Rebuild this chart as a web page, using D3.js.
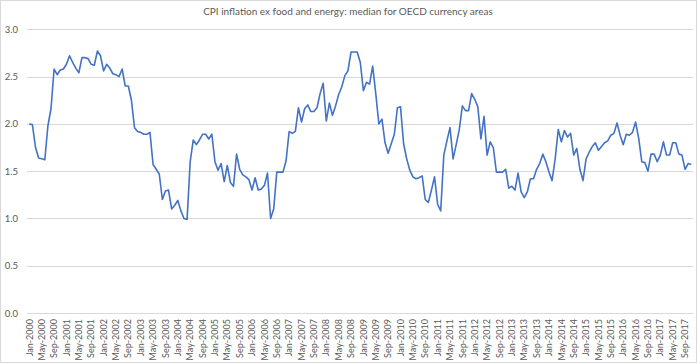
<!DOCTYPE html>
<html>
<head>
<meta charset="utf-8">
<script src="https://cdn.jsdelivr.net/npm/d3@7"></script>
<style>
  body { margin: 0; background: #fff; }
  svg { display: block; font-family: Lato, "Open Sans", sans-serif; }
</style>
</head>
<body>
<div id="chart"></div>
<script>
const width = 700;
const height = 364;

const title = "CPI inflation ex food and energy: median for OECD currency areas";

// monthly categories, Jan 2000 .. Nov 2017
const parseMonth = d3.timeParse("%Y-%m");
const fmtMonth = d3.timeFormat("%b-%Y");
const months = d3.timeMonth.range(parseMonth("2000-01"), parseMonth("2017-12")).map(fmtMonth);

// median core CPI inflation, %
const values = [
  2.00, 1.99, 1.75, 1.64, 1.63, 1.62, 1.98, 2.16, 2.58, 2.52,
  2.57, 2.58, 2.63, 2.72, 2.65, 2.59, 2.54, 2.70, 2.70, 2.69,
  2.63, 2.62, 2.77, 2.72, 2.56, 2.63, 2.59, 2.53, 2.52, 2.50,
  2.58, 2.40, 2.40, 2.25, 1.96, 1.92, 1.91, 1.89, 1.89, 1.91,
  1.57, 1.52, 1.47,
  1.20, 1.29, 1.30, 1.10, 1.14, 1.19, 1.08, 1.00, 0.99, 1.60,
  1.83, 1.78, 1.83, 1.89, 1.89, 1.84, 1.89, 1.60, 1.51, 1.58,
  1.39, 1.56, 1.38, 1.34, 1.68, 1.52, 1.46, 1.44, 1.41, 1.30,
  1.43, 1.30, 1.31, 1.35, 1.48, 1.00, 1.10, 1.49, 1.49, 1.49,
  1.61, 1.92, 1.90,
  1.92, 2.17, 2.02, 2.16, 2.20, 2.13, 2.13, 2.17, 2.32, 2.43,
  2.03, 2.22, 2.09, 2.19, 2.31, 2.39, 2.51, 2.56, 2.76, 2.76,
  2.76, 2.65, 2.35, 2.44, 2.42, 2.61, 2.32, 2.00, 2.05, 1.80,
  1.69, 1.79, 1.89, 2.17, 2.18, 1.79, 1.63, 1.51, 1.44, 1.42,
  1.43, 1.45, 1.20, 1.17,
  1.30, 1.44, 1.15, 1.08, 1.67, 1.82, 1.96, 1.63, 1.78, 1.94,
  2.19, 2.14, 2.14, 2.32, 2.26, 2.18, 1.84, 2.08, 1.67, 1.81,
  1.75, 1.49, 1.49, 1.49, 1.52, 1.32, 1.34, 1.30, 1.48, 1.28,
  1.22, 1.28, 1.42, 1.42, 1.52, 1.58, 1.68, 1.60, 1.49, 1.40,
  1.63, 1.94, 1.81, 1.93,
  1.86, 1.90, 1.67, 1.74, 1.52, 1.40, 1.63, 1.70, 1.76, 1.80,
  1.72, 1.76, 1.80, 1.82, 1.88, 1.90, 2.01, 1.88, 1.78, 1.89,
  1.88, 1.91, 2.02, 1.85, 1.60, 1.59, 1.50, 1.68, 1.68, 1.60,
  1.67, 1.81, 1.67, 1.67, 1.80, 1.80, 1.68, 1.67, 1.52, 1.58,
  1.57
];

const yTicks = [0, 0.5, 1, 1.5, 2, 2.5, 3];
const xTickLabels = months.filter((m, i) => i % 4 === 0);

const data = months.map((m, i) => ({ month: m, value: values[i] }));

const svg = d3.select("#chart")
  .append("svg")
  .attr("width", width)
  .attr("height", height);

// chart area border
svg.append("rect")
  .attr("x", 0.5)
  .attr("y", 0.5)
  .attr("width", 696)
  .attr("height", 362)
  .attr("fill", "none")
  .attr("stroke", "#d9d9d9");

// scales
const xScale = d3.scaleBand()
  .domain(months)
  .range([27.8, 692.8]);

const yScale = d3.scaleLinear()
  .domain([0, 3])
  .range([313, 29.3]);

const xMid = d => xScale(d) + xScale.bandwidth() / 2;

// gridlines
svg.append("g")
  .selectAll("line")
  .data(yTicks)
  .join("line")
  .attr("x1", 27)
  .attr("x2", 693)
  .attr("y1", d => Math.round(yScale(d)) + 0.5)
  .attr("y2", d => Math.round(yScale(d)) + 0.5)
  .attr("stroke", "#d9d9d9")
  .attr("stroke-width", 1);

// y axis labels
const yAxis = svg.append("g")
  .attr("transform", "translate(18, 0)")
  .call(d3.axisLeft(yScale).tickValues(yTicks).tickFormat(d3.format(".1f")).tickSize(0).tickPadding(0));
yAxis.select(".domain").remove();
yAxis.selectAll("text")
  .attr("fill", "#595959")
  .style("font-size", "9.5px")
  .style("font-family", "Lato, sans-serif");

// x axis labels
const xAxis = svg.append("g")
  .attr("transform", "translate(0, 313)")
  .call(d3.axisBottom(xScale).tickValues(xTickLabels).tickSize(0).tickPadding(0));
xAxis.select(".domain").remove();
xAxis.selectAll("text")
  .attr("fill", "#595959")
  .style("font-size", "9px")
  .style("font-family", "Lato, sans-serif")
  .attr("text-anchor", "end")
  .attr("transform", "rotate(-90)")
  .attr("x", -6)
  .attr("y", 0)
  .attr("dy", "0.35em");

// line
const line = d3.line()
  .x(d => xMid(d.month))
  .y(d => yScale(d.value));

svg.append("path")
  .datum(data)
  .attr("d", line)
  .attr("fill", "none")
  .attr("stroke", "#4472c4")
  .attr("stroke-width", 1.6)
  .attr("stroke-linejoin", "round");

// title
svg.append("text")
  .attr("x", 348)
  .attr("y", 15)
  .attr("text-anchor", "middle")
  .attr("fill", "#595959")
  .style("font-size", "10px")
  .text(title);
</script>
</body>
</html>
